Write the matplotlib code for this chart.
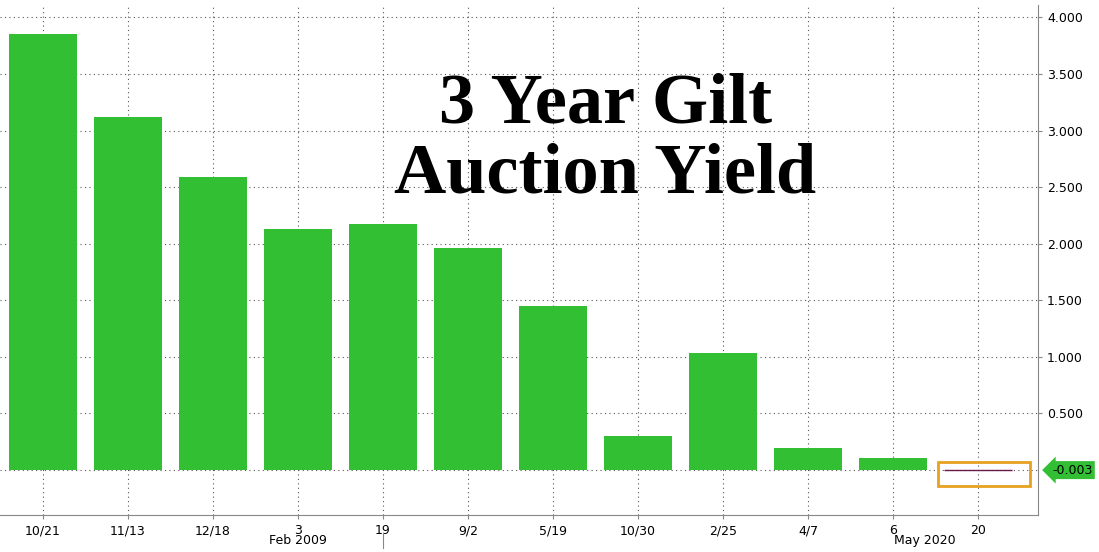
import matplotlib.pyplot as plt
from matplotlib.patches import Rectangle

labels = ['10/21', '11/13', '12/18', '3', '19', '9/2', '5/19', '10/30', '2/25', '4/7', '6', '20']
yields = [3.85, 3.12, 2.59, 2.13, 2.17, 1.96, 1.45, 0.30, 1.03, 0.19, 0.10, -0.003]

fig = plt.figure(figsize=(10.99, 5.52), dpi=100)
ax = fig.add_axes([0.0, 37 / 552, 1038 / 1099, 510 / 552])

x = list(range(len(labels)))
ax.bar(x, yields, width=0.8, color='#33bf33', zorder=2)
ax.hlines(yields[-1], x[-1] - 0.4, x[-1] + 0.4, color='#6a1a4a', lw=1, zorder=3)

ax.set_xlim(-0.5, len(labels) - 0.3)
ax.set_ylim(-0.40, 4.11)
ax.yaxis.tick_right()
ax.set_yticks([i * 0.5 for i in range(1, 9)])
ax.set_yticklabels([f'{i * 0.5:.3f}' for i in range(1, 9)], fontsize=9)
ax.set_xticks(x)
ax.set_xticklabels(labels, fontsize=9)
ax.tick_params(axis='both', length=3, color='#888888')
ax.grid(True, linestyle=(0, (1, 3)), color='#555555', lw=0.8, zorder=0)
ax.axhline(0, linestyle=(0, (1, 3)), color='#555555', lw=0.8, zorder=0)
for s in ['top', 'left']:
    ax.spines[s].set_visible(False)
ax.spines['right'].set_color('#888888')
ax.spines['bottom'].set_color('#888888')

# highlight box on the last auction
ax.add_patch(Rectangle((x[-1] - 0.48, -0.14), 1.09, 0.21, fill=False,
                       edgecolor='#e8a020', lw=2, zorder=4, clip_on=False))
ax.annotate(f'{yields[-1]:.3f}', xy=(1.0, yields[-1]), xycoords=('axes fraction', 'data'),
            xytext=(10, 0), textcoords='offset points', va='center', fontsize=9,
            bbox=dict(boxstyle='larrow,pad=0.2', fc='#33bf33', ec='none'))

ax.text(298 / 1038, -0.05, 'Feb 2009', transform=ax.transAxes, ha='center', va='center', fontsize=9)
ax.text(925 / 1038, -0.05, 'May 2020', transform=ax.transAxes, ha='center', va='center', fontsize=9)
ax.plot([383 / 1038] * 2, [-0.035, -0.065], transform=ax.transAxes, color='#888888', lw=0.8, clip_on=False)

ax.text(0.583, 0.735, '3 Year Gilt\nAuction Yield', transform=ax.transAxes, ha='center', va='center',
        fontsize=52, fontweight='bold', family='Liberation Serif', linespacing=1.1)

fig.savefig('out.png', dpi=100)
